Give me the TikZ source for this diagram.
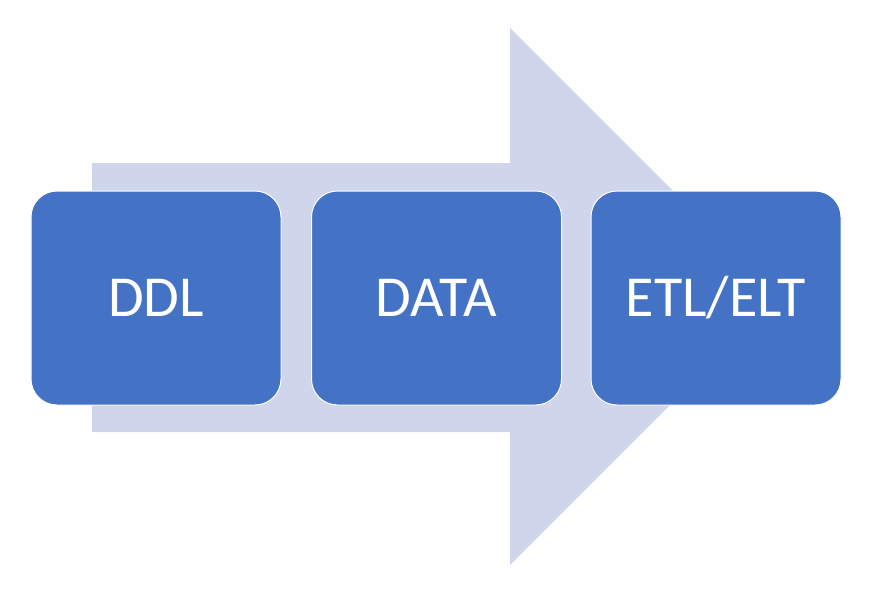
\documentclass[tikz,border=0pt]{standalone}
\usepackage{fontspec}
\setmainfont{Carlito}
\definecolor{boxblue}{HTML}{4472C4}
\definecolor{arrowgray}{HTML}{CFD5EA}
\begin{document}
\begin{tikzpicture}[x=1pt,y=-1pt,
  stage/.style={fill=boxblue, draw=white, line width=1pt, rounded corners=26pt,
    minimum width=250pt, minimum height=214pt, inner sep=0pt,
    text=white, font=\fontsize{58}{60}\selectfont}]
\useasboundingbox (0,0) rectangle (878,591);
\fill[arrowgray] (92,163) -- (510,163) -- (510,28) -- (778.5,296.5) -- (510,565) -- (510,432) -- (92,432) -- cycle;
\node[stage] (ddl) at (156,298) {DDL};
\node[stage] (data) at (436.5,298) {DATA};
\node[stage] (etl) at (716,298) {ETL/ELT};
\end{tikzpicture}
\end{document}
